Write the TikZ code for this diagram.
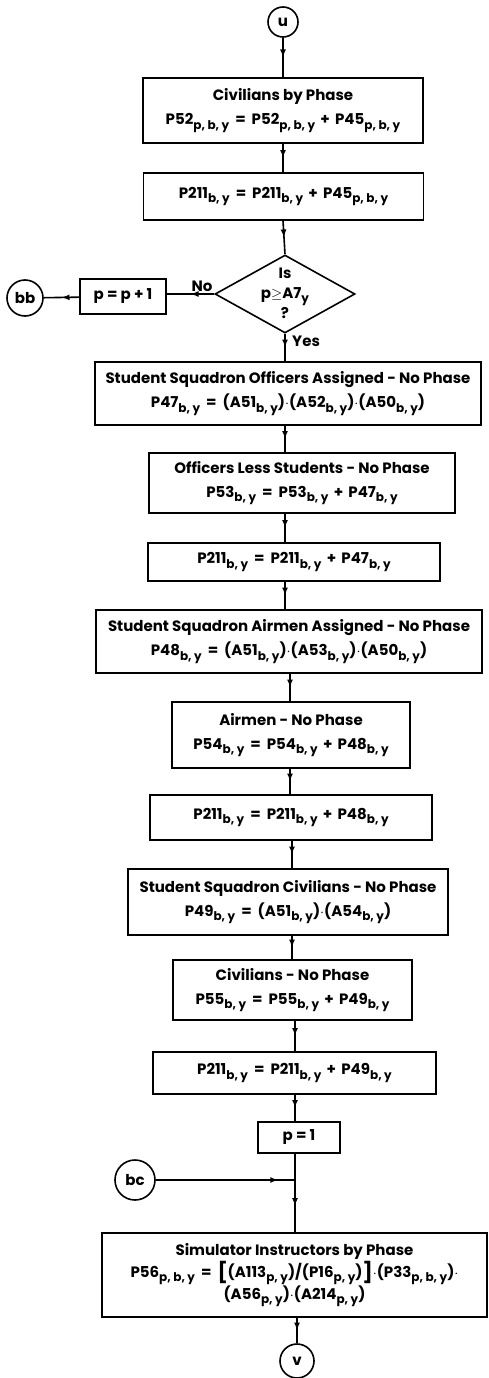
\documentclass[tikz,border=0pt]{standalone}
\usepackage{fontspec}
\setmainfont{Poppins}
\usetikzlibrary{shapes.geometric,decorations.markings,arrows.meta}
\newcommand{\sbs}[1]{\raisebox{-0.5ex}{\fontsize{12}{12}\selectfont #1}}
\newcommand{\tms}{$\cdot$}
\newcommand{\eqs}{\hspace{0.4em}=\hspace{0.4em}}
\newcommand{\pls}{\hspace{0.35em}+\hspace{0.35em}}
\newcommand{\bigbr}[1]{\raisebox{-0.25ex}{\fontsize{20}{20}\selectfont #1}}
\tikzset{
  lw/.style={line width=1.6pt},
  box/.style={draw,lw,align=center,inner sep=2pt,font=\bfseries\fontsize{15}{24}\selectfont},
  txt/.style={align=center,inner sep=1pt,font=\bfseries\fontsize{15}{20}\selectfont},
  conn/.style={draw,lw,circle,inner sep=0pt,font=\bfseries\fontsize{15}{15}\selectfont},
  flow/.style={lw,postaction={decorate},decoration={markings,mark=at position 0.5 with {\arrow{Latex[length=8pt,width=6pt]}}}},
  flowend/.style={lw,postaction={decorate},decoration={markings,mark=at position 0.88 with {\arrow{Latex[length=8pt,width=6pt]}}}},
}
\begin{document}
\begin{tikzpicture}[x=1pt,y=-1pt]
\useasboundingbox (0,0) rectangle (488,1378);
\fill[white] (0,0) rectangle (488,1378);
% flow-line x positions
\coordinate (xa) at (283,0);
\coordinate (xb) at (285,0);
\coordinate (xc) at (290,0);
\coordinate (xd) at (292,0);
\coordinate (xe) at (295,0);
\coordinate (xf) at (297,0);
% nodes
\node[conn,minimum size=30pt] (u) at (283,22) {u};
\node[box,minimum width=280pt,minimum height=65pt] (b1) at (283,110.5)
  {Civilians by Phase\\ P52\sbs{p, b, y}\eqs P52\sbs{p, b, y}\pls P45\sbs{p, b, y}};
\node[box,minimum width=280pt,minimum height=47pt] (b2) at (283.5,196.5)
  {P211\sbs{b, y}\eqs P211\sbs{b, y}\pls P45\sbs{p, b, y}};
\node[draw,lw,diamond,minimum width=140pt,minimum height=78pt,inner sep=0pt] (dia) at (285,294) {};
\node[txt] (diat) at (285,293) {Is\\ p$\geq$A7\sbs{y}\\ ?};
\node[box,minimum width=86pt,minimum height=35pt] (pp) at (123,296.5) {p = p + 1};
\node[conn,minimum size=36pt] (bb) at (25,298) {bb};
\node[txt,anchor=south] (no) at (202,293) {No};
\node[box,minimum width=386pt,minimum height=63pt] (b3) at (288,393.5)
  {Student Squadron Officers Assigned - No Phase\\ P47\sbs{b, y}\eqs(A51\sbs{b, y})\tms(A52\sbs{b, y})\tms(A50\sbs{b, y})};
\node[txt,anchor=west] (yes) at (291,341) {Yes};
\node[box,minimum width=306pt,minimum height=60pt] (b4) at (302,483)
  {Officers Less Students - No Phase\\ P53\sbs{b, y}\eqs P53\sbs{b, y}\pls P47\sbs{b, y}};
\node[box,minimum width=292pt,minimum height=38pt] (b5) at (294,562)
  {P211\sbs{b, y}\eqs P211\sbs{b, y}\pls P47\sbs{b, y}};
\node[box,minimum width=386pt,minimum height=63pt] (b6) at (289,641.5)
  {Student Squadron Airmen Assigned - No Phase\\ P48\sbs{b, y}\eqs(A51\sbs{b, y})\tms(A53\sbs{b, y})\tms(A50\sbs{b, y})};
\node[box,minimum width=238pt,minimum height=66pt] (b7) at (291,735)
  {Airmen - No Phase\\ P54\sbs{b, y}\eqs P54\sbs{b, y}\pls P48\sbs{b, y}};
\node[box,minimum width=282pt,minimum height=45pt] (b8) at (291,817.5)
  {P211\sbs{b, y}\eqs P211\sbs{b, y}\pls P48\sbs{b, y}};
\node[box,minimum width=320pt,minimum height=66pt] (b9) at (288,902)
  {Student Squadron Civilians - No Phase\\ P49\sbs{b, y}\eqs(A51\sbs{b, y})\tms(A54\sbs{b, y})};
\node[box,minimum width=239pt,minimum height=60pt] (b10) at (292.5,990)
  {Civilians - No Phase\\ P55\sbs{b, y}\eqs P55\sbs{b, y}\pls P49\sbs{b, y}};
\node[box,minimum width=283pt,minimum height=42pt] (b11) at (294.5,1073)
  {P211\sbs{b, y}\eqs P211\sbs{b, y}\pls P49\sbs{b, y}};
\node[box,minimum width=82pt,minimum height=31pt] (b12) at (299,1137.5) {p = 1};
\node[conn,minimum size=40pt] (bc) at (135,1180) {bc};
\coordinate (j) at (295,1180);
\node[box,minimum width=385pt,minimum height=84pt,inner sep=1pt] (b13) at (294.5,1275)
  {Simulator Instructors by Phase\\[-2pt]
   P56\sbs{p, b, y}\eqs\bigbr{[}(A113\sbs{p, y})/(P16\sbs{p, y})\bigbr{]}\tms(P33\sbs{p, b, y})\tms\\[-2pt]
   (A56\sbs{p, y})\tms(A214\sbs{p, y})};
\node[conn,minimum size=34pt] (v) at (297,1361) {v};
% connectors
\draw[flow] (u) -- (u |- b1.north);
\draw[flow] (b1.south -| xa) -- (b2.north -| xa);
\draw[flow] (b2.south -| xa) -- (dia.north);
\draw[flow] (dia.west) -- (dia.west -| pp.east);
\draw[flow] (pp) -- (bb);
\draw[flow] (dia.south) -- (b3.north -| dia.south);
\draw[flow] (b3.south -| xb) -- (b4.north -| xb);
\draw[flow] (b4.south -| xb) -- (b5.north -| xb);
\draw[flow] (b5.south -| xb) -- (b6.north -| xb);
\draw[flow] (b6.south -| xc) -- (b7.north -| xc);
\draw[flow] (b7.south -| xc) -- (b8.north -| xc);
\draw[flow] (b8.south -| xd) -- (b9.north -| xd);
\draw[flow] (b9.south -| xd) -- (b10.north -| xd);
\draw[flow] (b10.south -| xe) -- (b11.north -| xe);
\draw[flow] (b11.south -| xe) -- (b12.north -| xe);
\draw[lw] (b12.south -| xe) -- (j);
\draw[flowend] (bc) -- (j);
\draw[flow] (j) -- (b13.north -| j);
\draw[flow] (b13.south -| xf) -- (v);
\end{tikzpicture}
\end{document}
